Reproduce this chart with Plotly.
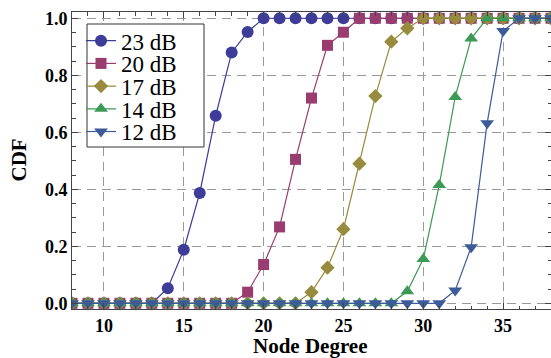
import plotly.graph_objects as go

# ---------------- data ----------------
node_degree = [8, 9, 10, 11, 12, 13, 14, 15, 16, 17, 18, 19, 20, 21, 22, 23,
               24, 25, 26, 27, 28, 29, 30, 31, 32, 33, 34, 35, 36, 37, 38]

cdf_23db = [0, 0, 0, 0, 0, 0, 0.053, 0.188, 0.387, 0.658, 0.88, 0.952,
            1, 1, 1, 1, 1, 1, 1, 1, 1, 1, 1, 1, 1, 1, 1, 1, 1, 1, 1]
cdf_20db = [0, 0, 0, 0, 0, 0, 0, 0, 0, 0, 0, 0.039, 0.136, 0.268, 0.505,
            0.72, 0.905, 0.951, 1, 1, 1, 1, 1, 1, 1, 1, 1, 1, 1, 1, 1]
cdf_17db = [0, 0, 0, 0, 0, 0, 0, 0, 0, 0, 0, 0, 0, 0, 0, 0.039, 0.125,
            0.26, 0.49, 0.727, 0.918, 0.965, 1, 1, 1, 1, 1, 1, 1, 1, 1]
cdf_14db = [0, 0, 0, 0, 0, 0, 0, 0, 0, 0, 0, 0, 0, 0, 0, 0, 0, 0, 0, 0, 0,
            0.042, 0.155, 0.415, 0.724, 0.929, 1, 1, 1, 1, 1]
cdf_12db = [0, 0, 0, 0, 0, 0, 0, 0, 0, 0, 0, 0, 0, 0, 0, 0, 0, 0, 0, 0, 0,
            0, 0, 0, 0.045, 0.197, 0.632, 0.955, 1, 1, 1]

series_names = ["23 dB", "20 dB", "17 dB", "14 dB", "12 dB"]
series_values = [cdf_23db, cdf_20db, cdf_17db, cdf_14db, cdf_12db]

x_tick_vals = [10, 15, 20, 25, 30, 35]
y_tick_vals = [0.0, 0.2, 0.4, 0.6, 0.8, 1.0]
x_title = "Node Degree"
y_title = "CDF"

# ---------------- style ----------------
colors = ["#3D3D99", "#993D71", "#998B3D", "#3D9956", "#3D5A99"]
symbols = ["circle", "square", "diamond", "triangle-up", "triangle-down"]
sizes = [12, 11, 11, 12, 12]

W, H = 551, 358
ML, MT, MR, MB = 72, 12, 0, 49
PW, PH = W - ML - MR, H - MT - MB

SERIF = "Liberation Serif"
AXIS_COLOR = "#444444"

fig = go.Figure()

legend_font = 23
item_h = legend_font * 1.3 + 3
centers = [40.7, 63.4, 86.1, 108.8, 131.5]
legend_ids = ["legend", "legend2", "legend3", "legend4", "legend5"]

for i, (name, vals) in enumerate(zip(series_names, series_values)):
    fig.add_trace(go.Scatter(
        x=node_degree, y=vals, name=name, mode="lines+markers",
        line=dict(color=colors[i], width=1.2),
        marker=dict(symbol=symbols[i], size=sizes[i], color=colors[i],
                    line=dict(width=0)),
        legend=legend_ids[i], showlegend=True,
    ))

layout_legends = {}
for i, lid in enumerate(legend_ids):
    top_px = centers[i] - (5 + item_h / 2)
    layout_legends[lid] = dict(
        x=81 / W, y=1 - top_px / H, xref="container", yref="container",
        xanchor="left", yanchor="top",
        bgcolor="rgba(0,0,0,0)", borderwidth=0,
        font=dict(family=SERIF, size=legend_font, color="black",
                  weight="normal"),
    )

# legend frame
box_l, box_r, box_t, box_b = 87, 204, 24, 147
fig.add_shape(
    type="rect", xref="paper", yref="paper",
    x0=(box_l - ML) / PW, x1=(box_r - ML) / PW,
    y0=(H - MB - box_b) / PH, y1=(H - MB - box_t) / PH,
    fillcolor="white", line=dict(color="#333333", width=1), layer="above",
)

tickfont = dict(family=SERIF, size=18, color="black", weight="bold")
titlefont = dict(family=SERIF, size=21, color="black", weight="bold")

# axis titles as annotations (pixel placement)
fig.add_annotation(
    text=x_title, xref="paper", yref="paper", x=(310 - ML) / PW, y=0,
    yshift=-(346 - (H - MB)), xanchor="center", yanchor="middle",
    showarrow=False, font=titlefont,
)
fig.add_annotation(
    text=y_title, xref="paper", yref="paper", x=0, y=(H - MB - 160) / PH,
    xshift=-(ML - 18.5), xanchor="center", yanchor="middle", textangle=-90,
    showarrow=False, font=titlefont,
)

fig.update_layout(
    width=W, height=H,
    margin=dict(l=ML, r=MR, t=MT, b=MB, autoexpand=False),
    paper_bgcolor="white", plot_bgcolor="white",
    font=dict(family=SERIF, color="black"),
    **layout_legends,
)

fig.update_xaxes(
    range=[8, 38], tickvals=x_tick_vals, ticks="inside", ticklen=6,
    tickcolor=AXIS_COLOR, tickwidth=1,
    minor=dict(dtick=1, tick0=0, ticks="inside", ticklen=3.5,
               tickcolor=AXIS_COLOR, showgrid=False),
    showline=True, linecolor=AXIS_COLOR, linewidth=1, mirror="ticks",
    showgrid=True, gridcolor="#999999", gridwidth=1.2, griddash="9px,6px",
    zeroline=False, tickfont=tickfont,
)
fig.update_yaxes(
    range=[-0.020, 1.022], tickvals=y_tick_vals, tickformat=".1f",
    ticksuffix="\u00a0",
    ticks="inside", ticklen=6, tickcolor=AXIS_COLOR, tickwidth=1,
    minor=dict(dtick=0.05, tick0=0, ticks="inside", ticklen=3.5,
               tickcolor=AXIS_COLOR, showgrid=False),
    showline=True, linecolor=AXIS_COLOR, linewidth=1, mirror="ticks",
    showgrid=True, gridcolor="#999999", gridwidth=1.2, griddash="9px,6px",
    zeroline=False, tickfont=tickfont,
)

fig.write_html("out.html")
